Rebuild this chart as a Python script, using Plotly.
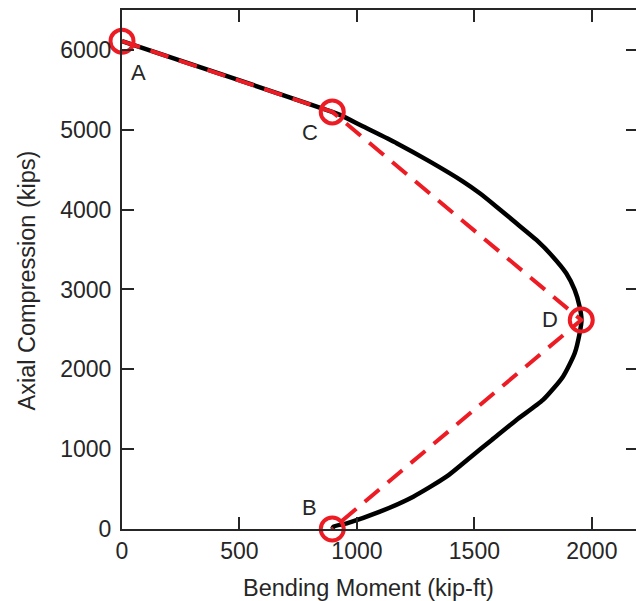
import plotly.graph_objects as go

# Interaction curve (black)
curve_m = [0, 450, 895, 928, 1027, 1169, 1311, 1452, 1523, 1594, 1679, 1764, 1834, 1891,
           1927, 1948, 1956, 1948, 1927, 1877, 1792, 1679, 1574, 1486, 1381, 1240, 1098,
           957, 900, 895]
curve_p = [6110, 5668, 5224, 5186, 5040, 4832, 4601, 4351, 4205, 4037, 3829, 3620, 3411,
           3203, 2994, 2785, 2618, 2451, 2201, 1908, 1616, 1365, 1115, 906, 655, 405, 217,
           71, 29, 0]

# Simplified points (red)
pt_labels = ["A", "C", "D", "B"]
pt_m = [0, 895, 1955, 895]
pt_p = [6110, 5224, 2618, 0]

# label anchor positions
lab_m = [70, 800, 1820, 800]
lab_p = [5712, 4960, 2618, 275]

xticks = [0, 500, 1000, 1500, 2000]
yticks = [0, 1000, 2000, 3000, 4000, 5000, 6000]

RED = "#ED1C24"
AX = "#262626"
FONT = "Liberation Sans, Arial, Helvetica, sans-serif"

fig = go.Figure()
fig.add_trace(go.Scatter(x=curve_m, y=curve_p, mode="lines",
                         line=dict(color="black", width=4.5, shape="spline", smoothing=0.6),
                         showlegend=False))
fig.add_trace(go.Scatter(x=pt_m, y=pt_p, mode="lines",
                         line=dict(color=RED, width=4, dash="19px,11px"),
                         showlegend=False, cliponaxis=False))
fig.add_trace(go.Scatter(x=pt_m, y=pt_p, mode="markers",
                         marker=dict(symbol="circle-open", size=23, color=RED,
                                     line=dict(color=RED, width=4)),
                         showlegend=False, cliponaxis=False))
# invisible trace for right-side tick axis
fig.add_trace(go.Scatter(x=[0], y=[0], yaxis="y2", mode="markers",
                         marker=dict(opacity=0), showlegend=False, hoverinfo="skip"))

for t, xm, yp in zip(pt_labels, lab_m, lab_p):
    fig.add_annotation(x=xm, y=yp, text=t, showarrow=False,
                       font=dict(size=22, color=AX, family=FONT),
                       xanchor="center", yanchor="middle")

fig.add_annotation(xref="paper", yref="paper", x=0.479, y=-0.1136,
                   text="Bending Moment (kip-ft)", showarrow=False,
                   font=dict(size=23.5, color=AX, family=FONT),
                   xanchor="center", yanchor="middle")
fig.add_annotation(xref="paper", yref="paper", x=-0.1856, y=0.478,
                   text="Axial Compression (kips)", showarrow=False, textangle=-90,
                   font=dict(size=23.5, color=AX, family=FONT),
                   xanchor="center", yanchor="middle")

fig.update_layout(
    width=636, height=601,
    margin=dict(l=121.5, r=0, t=9.5, b=72),
    plot_bgcolor="white", paper_bgcolor="white",
    font=dict(family=FONT, color=AX, size=22),
    xaxis=dict(range=[0, 2188], tickvals=xticks, ticktext=[str(v) for v in xticks],
               ticks="inside", ticklen=12, tickwidth=2, tickcolor=AX,
               showline=True, linecolor=AX, linewidth=2, mirror="ticks",
               showgrid=False, zeroline=False,
               tickfont=dict(size=23, color=AX, family=FONT)),
    yaxis=dict(range=[0, 6500], tickvals=yticks, ticktext=[str(v) for v in yticks],
               ticks="inside", ticklen=12, tickwidth=2, tickcolor=AX,
               showline=True, linecolor=AX, linewidth=2, mirror=False,
               showgrid=False, zeroline=False, ticklabelstandoff=4,
               tickfont=dict(size=23, color=AX, family=FONT)),
    yaxis2=dict(range=[0, 6500], tickvals=yticks, overlaying="y", side="right",
                ticks="inside", ticklen=10, tickwidth=2, tickcolor=AX,
                showline=False, showticklabels=False, showgrid=False, zeroline=False),
)

fig.write_html("out.html")
